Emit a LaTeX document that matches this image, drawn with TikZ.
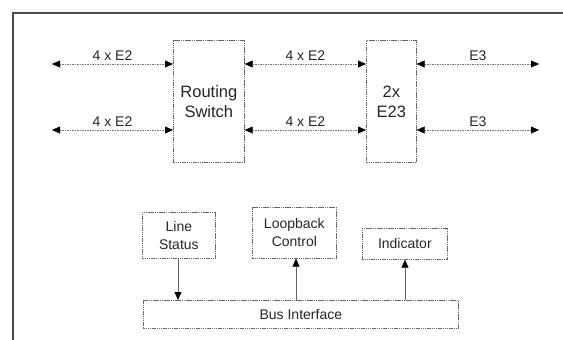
\documentclass[tikz,border=0pt]{standalone}
\usepackage{fontspec}
\setmainfont{Liberation Sans}
\usetikzlibrary{arrows.meta}
\begin{document}
\begin{tikzpicture}[x=1pt,y=-1pt,
  tip/.tip={Triangle[length=8pt,width=7pt,color=black,fill=black,line width=0.4pt]},
  blk/.style={draw=black!60, line width=0.7pt, dash pattern=on 1.5pt off 0.7pt, inner sep=0pt, anchor=north west, text=black!85},
  lnk/.style={draw=black!55, line width=0.6pt, dash pattern=on 1.5pt off 1pt, tip-tip},
  onearrow/.style={draw=black!60, line width=0.7pt, -tip},
  lbl/.style={font=\fontsize{14}{15}\selectfont, text=black!85, inner sep=3pt},
  big/.style={font=\fontsize{16.5}{20}\selectfont, align=center},
  mid/.style={font=\fontsize{14}{18}\selectfont, align=center}]
\useasboundingbox (0,0) rectangle (563,340);
\fill[white] (0,0) rectangle (563,340);
% frame
\draw[black!70, line width=1.6pt] (13,340) -- (13,13) -- (563,13);
% top blocks
\node[blk, minimum width=71pt, minimum height=122pt, big] (rs) at (173,40) {Routing\\Switch};
\node[blk, minimum width=50pt, minimum height=122pt, big] (ee) at (366,40) {2x\\E23};
% free ends
\coordinate (l1) at (52,64);
\coordinate (l2) at (52,130);
\coordinate (r1) at (539,64);
\coordinate (r2) at (539,130);
% links
\draw[lnk] (l1) -- (rs.west |- l1) node[midway, above, lbl] {4 x E2};
\draw[lnk] (l2) -- (rs.west |- l2) node[midway, above, lbl] {4 x E2};
\draw[lnk] (rs.east |- l1) -- (ee.west |- l1) node[midway, above, lbl] {4 x E2};
\draw[lnk] (rs.east |- l2) -- (ee.west |- l2) node[midway, above, lbl] {4 x E2};
\draw[lnk] (ee.east |- r1) -- (r1) node[midway, above, lbl] {E3};
\draw[lnk] (ee.east |- r2) -- (r2) node[midway, above, lbl] {E3};
% bottom blocks
\node[blk, minimum width=73pt, minimum height=46pt, mid] (ls) at (142,212) {Line\\Status};
\node[blk, minimum width=84pt, minimum height=51pt, mid] (lc) at (252,207) {Loopback\\Control};
\node[blk, minimum width=85pt, minimum height=31pt, mid] (ind) at (362,228) {Indicator};
\node[blk, minimum width=315pt, minimum height=28pt, mid] (bus) at (143,300) {Bus Interface};
% vertical arrows
\draw[onearrow] (ls.south -| 178,0) -- (bus.north -| 178,0);
\draw[onearrow] (bus.north -| 296,0) -- (lc.south -| 296,0);
\draw[onearrow] (bus.north -| 405,0) -- (ind.south -| 405,0);
\end{tikzpicture}
\end{document}
